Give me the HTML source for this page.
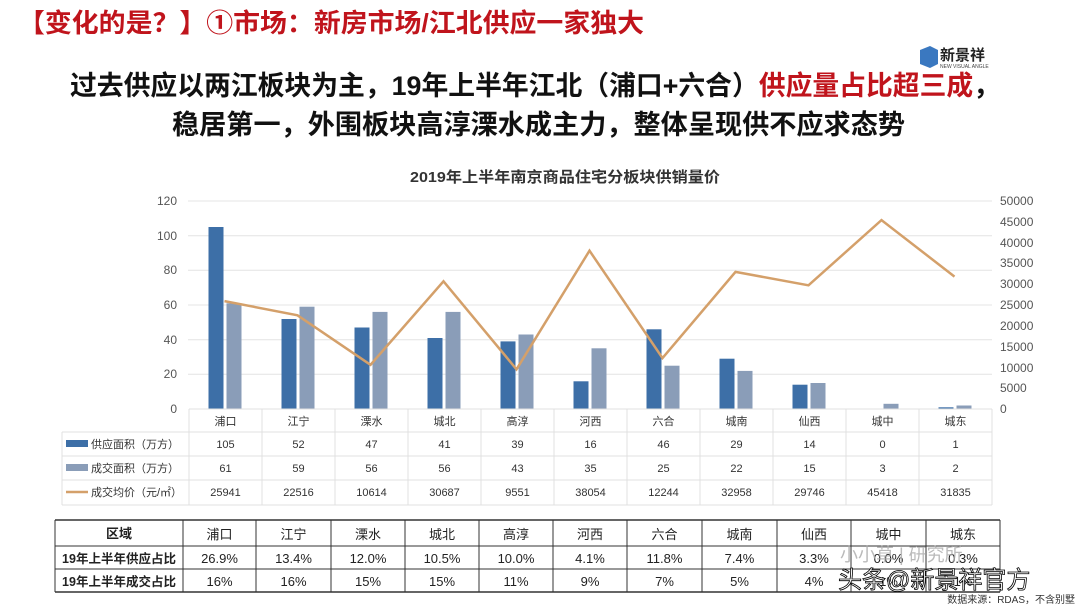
<!DOCTYPE html>
<html><head><meta charset="utf-8"><style>
body{margin:0;width:1080px;height:608px;background:#fff;overflow:hidden}
svg text{font-family:"Liberation Sans","Noto Sans CJK SC",sans-serif}
</style></head><body>
<svg width="1080" height="608" xmlns="http://www.w3.org/2000/svg">
<text x="18" y="32" font-size="26" font-weight="bold" fill="#c0141c" textLength="626" lengthAdjust="spacingAndGlyphs">【变化的是？】①市场：新房市场/江北供应一家独大</text>
<g transform="translate(920,44)"><path d="M0,6 L10,2 L18,6 L18,20 L10,24 L0,20Z" fill="#3a78c0"/><text x="20" y="16" font-size="15" font-weight="bold" fill="#222">新景祥</text><text x="20" y="24" font-size="5" fill="#444">NEW VISUAL ANGLE</text></g>
<text x="70" y="95" font-size="27" font-weight="bold" fill="#111" textLength="930" lengthAdjust="spacingAndGlyphs">过去供应以两江板块为主，19年上半年江北（浦口+六合）<tspan fill="#c0141c">供应量占比超三成</tspan>，</text>
<text x="172" y="134" font-size="27" font-weight="bold" fill="#111" textLength="733" lengthAdjust="spacingAndGlyphs">稳居第一，外围板块高淳溧水成主力，整体呈现供不应求态势</text>
<text x="410" y="182" font-size="15" font-weight="bold" fill="#333" textLength="310" lengthAdjust="spacingAndGlyphs">2019年上半年南京商品住宅分板块供销量价</text>
<g stroke="#e4e4e4" stroke-width="1">
<line x1="188" y1="201" x2="992" y2="201"/><line x1="188" y1="235.7" x2="992" y2="235.7"/><line x1="188" y1="270.3" x2="992" y2="270.3"/><line x1="188" y1="305" x2="992" y2="305"/><line x1="188" y1="339.7" x2="992" y2="339.7"/><line x1="188" y1="374.3" x2="992" y2="374.3"/>
</g>
<g font-size="12" fill="#555" text-anchor="end">
<text x="177" y="205">120</text><text x="177" y="240">100</text><text x="177" y="274">80</text><text x="177" y="309">60</text><text x="177" y="344">40</text><text x="177" y="378">20</text><text x="177" y="413">0</text>
</g>
<g font-size="12" fill="#555">
<text x="1000" y="205">50000</text><text x="1000" y="226">45000</text><text x="1000" y="247">40000</text><text x="1000" y="267">35000</text><text x="1000" y="288">30000</text><text x="1000" y="309">25000</text><text x="1000" y="330">20000</text><text x="1000" y="351">15000</text><text x="1000" y="372">10000</text><text x="1000" y="392">5000</text><text x="1000" y="413">0</text>
</g>
<g fill="#3d6fa7">
<rect x="208.5" y="227" width="15" height="182"/><rect x="281.5" y="319" width="15" height="90"/><rect x="354.5" y="327.5" width="15" height="81.5"/><rect x="427.5" y="338" width="15" height="71"/><rect x="500.5" y="341.4" width="15" height="67.6"/><rect x="573.5" y="381.3" width="15" height="27.7"/><rect x="646.5" y="329.3" width="15" height="79.7"/><rect x="719.5" y="358.7" width="15" height="50.3"/><rect x="792.5" y="384.7" width="15" height="24.3"/><rect x="938.5" y="407.3" width="15" height="1.7"/>
</g>
<g fill="#8a9db8">
<rect x="226.5" y="303.3" width="15" height="105.7"/><rect x="299.5" y="306.7" width="15" height="102.3"/><rect x="372.5" y="311.9" width="15" height="97.1"/><rect x="445.5" y="311.9" width="15" height="97.1"/><rect x="518.5" y="334.5" width="15" height="74.5"/><rect x="591.5" y="348.3" width="15" height="60.7"/><rect x="664.5" y="365.7" width="15" height="43.3"/><rect x="737.5" y="370.9" width="15" height="38.1"/><rect x="810.5" y="383" width="15" height="26"/><rect x="883.5" y="403.8" width="15" height="5.2"/><rect x="956.5" y="405.5" width="15" height="3.5"/>
</g>
<polyline fill="none" stroke="#d4a06a" stroke-width="2.5" points="224.5,301.1 297.5,315.3 370.5,364.8 443.5,281.3 516.5,369.3 589.5,250.7 662.5,358.1 735.5,271.9 808.5,285.3 881.5,220.1 954.5,276.6"/>
<g stroke="#e0e0e0" stroke-width="1" fill="none">
<line x1="189" y1="409" x2="992" y2="409"/><line x1="62" y1="432" x2="992" y2="432"/><line x1="62" y1="456" x2="992" y2="456"/><line x1="62" y1="480" x2="992" y2="480"/><line x1="62" y1="505" x2="992" y2="505"/>
<line x1="62" y1="432" x2="62" y2="505"/>
<line x1="189" y1="409" x2="189" y2="505"/><line x1="262" y1="409" x2="262" y2="505"/><line x1="335" y1="409" x2="335" y2="505"/><line x1="408" y1="409" x2="408" y2="505"/><line x1="481" y1="409" x2="481" y2="505"/><line x1="554" y1="409" x2="554" y2="505"/><line x1="627" y1="409" x2="627" y2="505"/><line x1="700" y1="409" x2="700" y2="505"/><line x1="773" y1="409" x2="773" y2="505"/><line x1="846" y1="409" x2="846" y2="505"/><line x1="919" y1="409" x2="919" y2="505"/><line x1="992" y1="409" x2="992" y2="505"/>
</g>
<rect x="66" y="440" width="22" height="7" fill="#3d6fa7"/><rect x="66" y="464" width="22" height="7" fill="#8a9db8"/><line x1="66" y1="492" x2="88" y2="492" stroke="#d4a06a" stroke-width="2.5"/>
<g font-size="11" fill="#333"><text x="91" y="448">供应面积（万方）</text><text x="91" y="472">成交面积（万方）</text><text x="91" y="496">成交均价（元/㎡）</text></g>
<g font-size="11" fill="#333" text-anchor="middle">
<text y="425"><tspan x="225.5">浦口</tspan><tspan x="298.5">江宁</tspan><tspan x="371.5">溧水</tspan><tspan x="444.5">城北</tspan><tspan x="517.5">高淳</tspan><tspan x="590.5">河西</tspan><tspan x="663.5">六合</tspan><tspan x="736.5">城南</tspan><tspan x="809.5">仙西</tspan><tspan x="882.5">城中</tspan><tspan x="955.5">城东</tspan></text>
<text y="448"><tspan x="225.5">105</tspan><tspan x="298.5">52</tspan><tspan x="371.5">47</tspan><tspan x="444.5">41</tspan><tspan x="517.5">39</tspan><tspan x="590.5">16</tspan><tspan x="663.5">46</tspan><tspan x="736.5">29</tspan><tspan x="809.5">14</tspan><tspan x="882.5">0</tspan><tspan x="955.5">1</tspan></text>
<text y="472"><tspan x="225.5">61</tspan><tspan x="298.5">59</tspan><tspan x="371.5">56</tspan><tspan x="444.5">56</tspan><tspan x="517.5">43</tspan><tspan x="590.5">35</tspan><tspan x="663.5">25</tspan><tspan x="736.5">22</tspan><tspan x="809.5">15</tspan><tspan x="882.5">3</tspan><tspan x="955.5">2</tspan></text>
<text y="496"><tspan x="225.5">25941</tspan><tspan x="298.5">22516</tspan><tspan x="371.5">10614</tspan><tspan x="444.5">30687</tspan><tspan x="517.5">9551</tspan><tspan x="590.5">38054</tspan><tspan x="663.5">12244</tspan><tspan x="736.5">32958</tspan><tspan x="809.5">29746</tspan><tspan x="882.5">45418</tspan><tspan x="955.5">31835</tspan></text>
</g>
<g stroke="#333" stroke-width="1" fill="none">
<line x1="55" y1="520" x2="1000" y2="520" stroke-width="1.5"/><line x1="55" y1="546" x2="1000" y2="546"/><line x1="55" y1="569" x2="1000" y2="569"/><line x1="55" y1="592" x2="1000" y2="592" stroke-width="1.5"/>
<line x1="55" y1="520" x2="55" y2="592"/><line x1="183" y1="520" x2="183" y2="592"/><line x1="256" y1="520" x2="256" y2="592"/><line x1="331" y1="520" x2="331" y2="592"/><line x1="405" y1="520" x2="405" y2="592"/><line x1="479" y1="520" x2="479" y2="592"/><line x1="553" y1="520" x2="553" y2="592"/><line x1="627" y1="520" x2="627" y2="592"/><line x1="702" y1="520" x2="702" y2="592"/><line x1="777" y1="520" x2="777" y2="592"/><line x1="851" y1="520" x2="851" y2="592"/><line x1="926" y1="520" x2="926" y2="592"/><line x1="1000" y1="520" x2="1000" y2="592"/>
</g>
<g font-size="13" fill="#222" text-anchor="middle">
<text x="119" y="538" font-weight="bold">区域</text>
<text x="119" y="563" font-weight="bold" font-size="12.5">19年上半年供应占比</text>
<text x="119" y="586" font-weight="bold" font-size="12.5">19年上半年成交占比</text>
<text y="539"><tspan x="219.5">浦口</tspan><tspan x="293.5">江宁</tspan><tspan x="368">溧水</tspan><tspan x="442">城北</tspan><tspan x="516">高淳</tspan><tspan x="590">河西</tspan><tspan x="664.5">六合</tspan><tspan x="739.5">城南</tspan><tspan x="814">仙西</tspan><tspan x="888.5">城中</tspan><tspan x="963">城东</tspan></text>
<text y="563"><tspan x="219.5">26.9%</tspan><tspan x="293.5">13.4%</tspan><tspan x="368">12.0%</tspan><tspan x="442">10.5%</tspan><tspan x="516">10.0%</tspan><tspan x="590">4.1%</tspan><tspan x="664.5">11.8%</tspan><tspan x="739.5">7.4%</tspan><tspan x="814">3.3%</tspan><tspan x="888.5">0.0%</tspan><tspan x="963">0.3%</tspan></text>
<text y="586"><tspan x="219.5">16%</tspan><tspan x="293.5">16%</tspan><tspan x="368">15%</tspan><tspan x="442">15%</tspan><tspan x="516">11%</tspan><tspan x="590">9%</tspan><tspan x="664.5">7%</tspan><tspan x="739.5">5%</tspan><tspan x="814">4%</tspan><tspan x="888.5">1%</tspan><tspan x="963">1%</tspan></text>
</g>
<text x="840" y="561" font-size="18" fill="#aaa" opacity="0.8">小小草 | 研究所</text>
<text x="838" y="588" font-size="24" fill="#fff" stroke="#000" stroke-width="0.8">头条@新景祥官方</text>
<text x="1075" y="603" font-size="10" fill="#333" text-anchor="end">数据来源：RDAS，不含别墅</text>
</svg>
</body></html>
